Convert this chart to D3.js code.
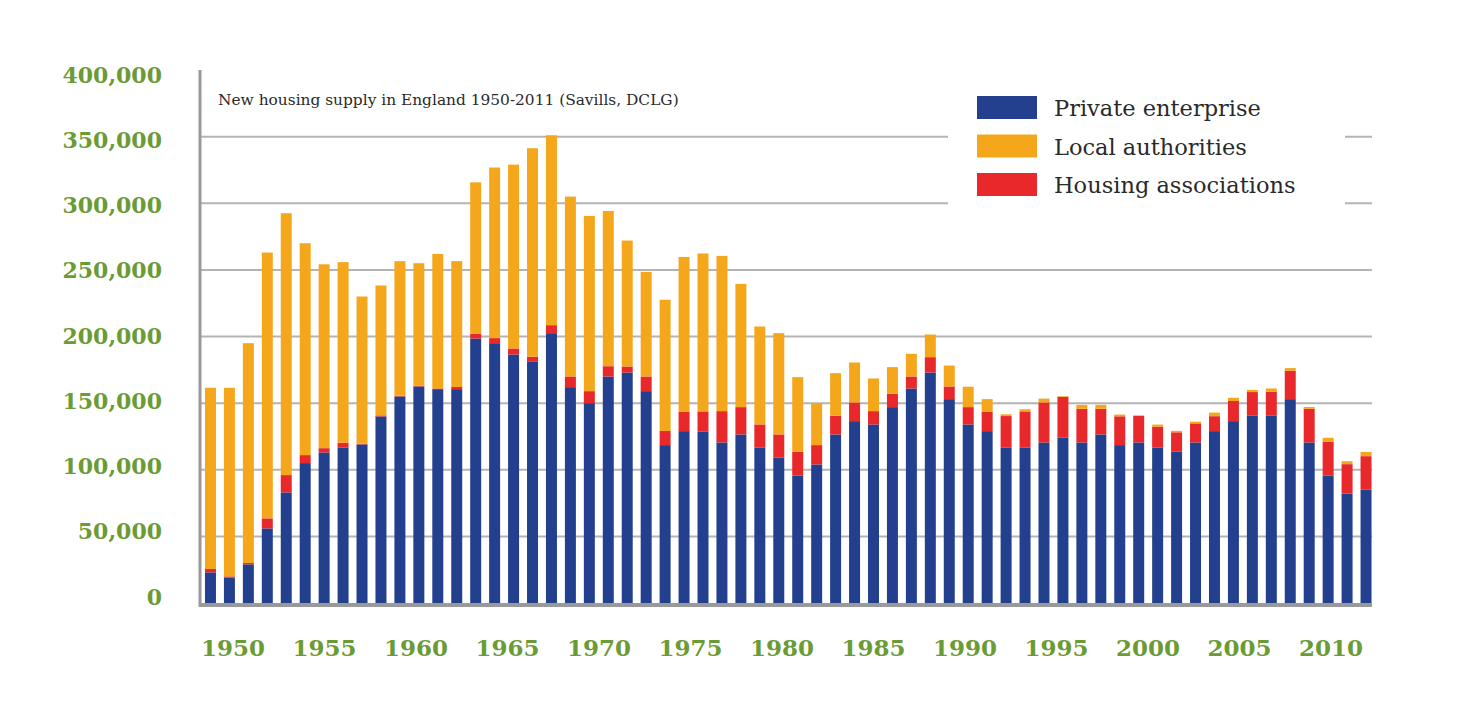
<!DOCTYPE html>
<html>
<head>
<meta charset="utf-8">
<script src="https://cdn.jsdelivr.net/npm/d3@7"></script>
<style>
  html, body { margin: 0; padding: 0; background: #fff; }
  svg { display: block; }
</style>
</head>
<body>
<svg id="chart" width="1460" height="715"></svg>
<script>
const years = [1950,1951,1952,1953,1954,1955,1956,1957,1958,1959,
  1960,1961,1962,1963,1964,1965,1966,1967,1968,1969,
  1970,1971,1972,1973,1974,1975,1976,1977,1978,1979,
  1980,1981,1982,1983,1984,1985,1986,1987,1988,1989,
  1990,1991,1992,1993,1994,1995,1996,1997,1998,1999,
  2000,2001,2002,2003,2004,2005,2006,2007,2008,2009,
  2010,2011];

const privateEnterprise = [23000,19000,29000,56000,83000,105000,113000,116500,119000,140000,
  155000,162500,160500,160500,198500,195000,186500,181000,202500,162000,
  150000,170000,173000,159000,118500,129000,128500,120500,126500,116500,
  109000,95500,104000,126500,136500,134000,147000,161000,173000,153000,
  134000,129000,116500,116500,120500,124000,120500,126500,118500,120500,
  116500,113500,120500,129000,136500,140500,140500,153000,120500,95500,
  82000,85000];

const housingAssociations = [2500,1000,1000,7500,13000,6000,3200,3800,500,800,
  500,500,500,1600,3700,3800,4500,3800,6000,8000,
  9000,7700,4500,11000,10600,14700,15300,23500,20500,17500,
  17500,18000,14500,14000,14000,10000,10000,9000,11500,9500,
  13000,14700,23800,27300,30000,30700,25200,19200,21600,20000,
  15800,14600,14300,11200,15100,17800,18100,21400,25200,25600,
  22200,25200];

const localAuthorities = [136000,141500,165000,199500,196500,159000,138000,135500,110500,97500,
  101000,92000,101000,94500,113500,128000,138000,156500,142500,135000,
  131500,116500,94500,78500,98500,116000,118500,116500,92500,73500,
  76000,56000,31500,32000,30000,24500,20000,17000,17000,15700,
  15300,9300,1300,1600,2900,500,3000,3000,1300,300,
  1600,1100,1300,2700,2400,1600,2400,1900,1400,2900,
  2200,3200];

const seriesNames = ["Private enterprise", "Local authorities", "Housing associations"];
const yTicks = [0,50000,100000,150000,200000,250000,300000,350000,400000];
const gridValues = [50000,100000,150000,200000,250000,300000,350000];
const xTickYears = [1950,1955,1960,1965,1970,1975,1980,1985,1990,1995,2000,2005,2010];
const titleText = "New housing supply in England 1950-2011 (Savills, DCLG)";

const colors = {
  "Private enterprise": "#22408e",
  "Local authorities": "#f5a71c",
  "Housing associations": "#e8282b"
};
const green = "#6a9b34";

// table built from arrays
const rows = years.map((y, i) => ({
  year: y,
  "Private enterprise": privateEnterprise[i],
  "Housing associations": housingAssociations[i],
  "Local authorities": localAuthorities[i]
}));

const svg = d3.select("#chart");

const x = d3.scaleBand().domain(years).range([201, 1375.5]).paddingInner(0.42).paddingOuter(0.21);
const y = d3.scaleLinear().domain([0, 400000]).range([603, 70]);
// label placement scales (labels sit in their own layer in the original)
const yLab = d3.scaleLinear().domain([0, 400000]).range([597, 75]);
const xLab = d3.scaleLinear().domain([1950, 2010]).range([233, 1331]);

// gridlines
svg.append("g").selectAll("line").data(gridValues).join("line")
  .attr("x1", 200).attr("x2", 1372)
  .attr("y1", d => y(d)).attr("y2", d => y(d))
  .attr("stroke", "#b4b4b4").attr("stroke-width", 2);

// white box behind legend (breaks gridlines)
svg.append("rect").attr("x", 948).attr("y", 82).attr("width", 397).attr("height", 140).attr("fill", "#fff");

// stacked bars
const stack = d3.stack().keys(["Private enterprise", "Housing associations", "Local authorities"]);
const stacked = stack(rows);
svg.append("g").selectAll("g").data(stacked).join("g")
  .attr("fill", d => colors[d.key])
  .selectAll("rect").data(d => d).join("rect")
  .attr("x", d => x(d.data.year))
  .attr("width", x.bandwidth())
  .attr("y", d => y(d[1]))
  .attr("height", d => Math.max(0, y(d[0]) - y(d[1])));

// axes lines
svg.append("line").attr("x1", 200).attr("x2", 200).attr("y1", 70).attr("y2", 607)
  .attr("stroke", "#999").attr("stroke-width", 3);
svg.append("line").attr("x1", 199).attr("x2", 1372).attr("y1", 605).attr("y2", 605)
  .attr("stroke", "#999").attr("stroke-width", 4);

// y tick labels
svg.append("g").selectAll("text").data(yTicks).join("text")
  .attr("x", 162).attr("y", d => yLab(d))
  .attr("dy", "0.35em")
  .attr("text-anchor", "end")
  .attr("font-family", "DejaVu Serif, serif")
  .attr("font-weight", "bold")
  .attr("font-size", 22)
  .attr("fill", green)
  .text(d => d3.format(",")(d));

// x tick labels
svg.append("g").selectAll("text").data(xTickYears).join("text")
  .attr("x", d => xLab(d)).attr("y", 648)
  .attr("dy", "0.35em")
  .attr("text-anchor", "middle")
  .attr("font-family", "DejaVu Serif, serif")
  .attr("font-weight", "bold")
  .attr("font-size", 23)
  .attr("fill", green)
  .text(d => d);

// title
svg.append("text").attr("x", 218).attr("y", 105)
  .attr("font-family", "DejaVu Serif, serif")
  .attr("font-size", 15.4)
  .attr("fill", "#2a2a2a")
  .text(titleText);

// legend
const leg = svg.append("g").selectAll("g").data(seriesNames).join("g")
  .attr("transform", (d, i) => `translate(977, ${96 + i * 38.5})`);
leg.append("rect").attr("width", 60).attr("height", 23).attr("fill", d => colors[d]);
leg.append("text").attr("x", 77).attr("y", 20)
  .attr("font-family", "DejaVu Serif, serif")
  .attr("font-size", 22.5)
  .attr("fill", "#2a2a2a")
  .text(d => d);
</script>
</body>
</html>
